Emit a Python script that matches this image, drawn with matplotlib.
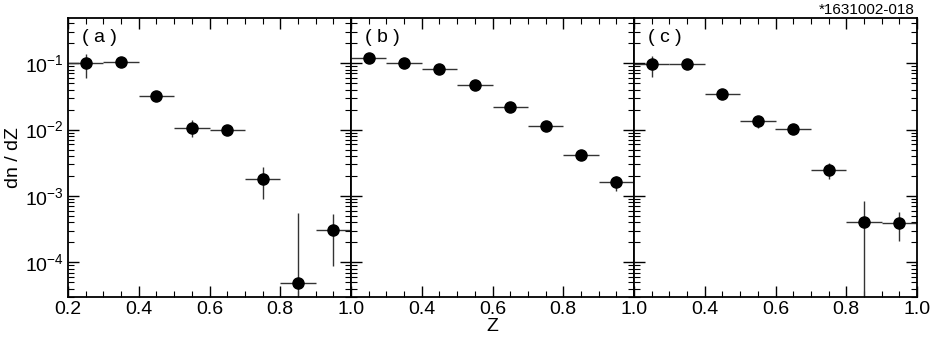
import numpy as np
import matplotlib.pyplot as plt
from matplotlib.ticker import LogLocator, MultipleLocator, NullFormatter, FuncFormatter

plt.rcParams.update({
    'font.family': 'Liberation Sans',
    'mathtext.fontset': 'custom',
    'mathtext.rm': 'Liberation Sans',
    'mathtext.it': 'Liberation Sans:italic',
    'axes.linewidth': 1.3,
    'xtick.direction': 'in',
    'ytick.direction': 'in',
    'xtick.top': True,
    'ytick.right': True,
})

# ── Data (bin centres, dn/dZ, asymmetric y errors) ───────────────────────────
z = [0.25, 0.35, 0.45, 0.55, 0.65, 0.75, 0.85, 0.95]
z_halfwidth = 0.05

a_val = [0.100, 0.105, 0.032, 0.0107, 0.0098, 0.0018, 4.9e-5, 3.1e-4]
a_hi  = [0.140, 0.110, 0.034, 0.0141, 0.0105, 0.00275, 5.6e-4, 5.4e-4]
a_lo  = [0.060, 0.100, 0.030, 0.0078, 0.0091, 0.00090, 1.0e-5, 8.8e-5]

b_val = [0.120, 0.102, 0.081, 0.047, 0.022, 0.0113, 0.0042, 0.0016]
b_hi  = [0.125, 0.106, 0.084, 0.049, 0.023, 0.0118, 0.0044, 0.0020]
b_lo  = [0.115, 0.098, 0.078, 0.045, 0.021, 0.0108, 0.0040, 0.0012]

c_val = [0.096, 0.098, 0.034, 0.0134, 0.0101, 0.0025, 4.0e-4, 3.9e-4]
c_hi  = [0.127, 0.102, 0.036, 0.0160, 0.0107, 0.0031, 8.3e-4, 5.7e-4]
c_lo  = [0.062, 0.094, 0.032, 0.0107, 0.0095, 0.0018, 1.0e-5, 2.1e-4]

panels = [('( a )', a_val, a_hi, a_lo),
          ('( b )', b_val, b_hi, b_lo),
          ('( c )', c_val, c_hi, c_lo)]

fig = plt.figure(figsize=(9.33, 3.45), dpi=100)
left, width = 68 / 933, 283 / 933
bottom, height = 1 - 297 / 345, 279 / 345


def xfmt_first(x, pos):
    return f'{x:.1f}'


def xfmt_other(x, pos):
    return '' if x < 0.3 else f'{x:.1f}'


for i, (tag, val, hi, lo) in enumerate(panels):
    ax = fig.add_axes([left + i * width, bottom, width, height])
    val = np.array(val)
    yerr = [val - np.array(lo), np.array(hi) - val]
    ax.errorbar(z, val, xerr=z_halfwidth, yerr=yerr, fmt='o', color='black',
                ecolor='#333333', elinewidth=1.0, markersize=8, capsize=0)
    ax.set_yscale('log')
    ax.set_xlim(0.2, 1.0)
    ax.set_ylim(3e-5, 0.48)
    ax.xaxis.set_major_locator(MultipleLocator(0.2))
    ax.xaxis.set_minor_locator(MultipleLocator(0.05))
    ax.yaxis.set_major_locator(LogLocator(base=10, numticks=10))
    ax.yaxis.set_minor_locator(LogLocator(base=10, subs=np.arange(2, 10), numticks=10))
    ax.yaxis.set_minor_formatter(NullFormatter())
    ax.tick_params(which='major', length=8, width=1.0, labelsize=14, pad=3)
    ax.tick_params(which='minor', length=4, width=0.8)
    if i == 0:
        ax.set_ylabel('dn / dZ', fontsize=14, labelpad=2)
        ax.xaxis.set_major_formatter(FuncFormatter(xfmt_first))
    else:
        ax.set_yticklabels([])
        ax.xaxis.set_major_formatter(FuncFormatter(xfmt_other))
    if i == 1:
        ax.set_xlabel('Z', fontsize=14, labelpad=0)
    ax.text(0.05, 0.96, tag, transform=ax.transAxes, fontsize=14,
            ha='left', va='top')

fig.text(915 / 933, 1 - 14 / 345, '*1631002-018', fontsize=11,
         ha='right', va='baseline')

plt.savefig('out.png', dpi=100)
